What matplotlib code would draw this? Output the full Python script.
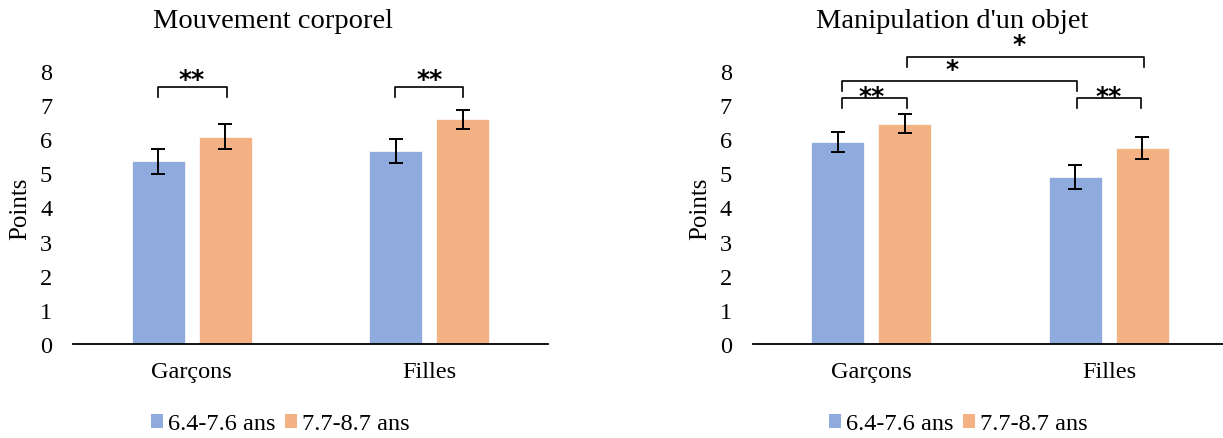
import numpy as np
import matplotlib
matplotlib.use("Agg")
import matplotlib.pyplot as plt
from matplotlib.patches import Patch

plt.rcParams["font.family"] = ["Liberation Serif", "DejaVu Serif"]

categories = ["Garçons", "Filles"]
series_names = ["6.4-7.6 ans", "7.7-8.7 ans"]
colors = ["#8FAADC", "#F4B183"]

corps_young = [5.35, 5.65]
corps_old = [6.08, 6.58]
corps_young_err = [0.36, 0.36]
corps_old_err = [0.37, 0.29]

objet_young = [5.93, 4.90]
objet_old = [6.46, 5.75]
objet_young_err = [0.29, 0.35]
objet_old_err = [0.27, 0.33]

titles = ["Mouvement corporel", "Manipulation d'un objet"]

# brackets: (x_left, x_right, y_top, y_leg, label, label_x, label_baseline)
corps_brackets = [
    (-0.141, 0.147, 7.53, 7.23, "**", 0.0, 7.55),
    (0.856, 1.141, 7.53, 7.23, "**", 1.0, 7.55),
]
objet_brackets = [
    (-0.124, 0.148, 7.21, 6.92, "**", 0.0, 7.06),
    (0.864, 1.135, 7.21, 6.92, "**", 1.0, 7.06),
    (-0.125, 0.866, 7.70, 7.42, "*", 0.34, 7.86),
    (0.148, 1.148, 8.42, 8.13, "*", 0.62, 8.58),
]

fig = plt.figure(figsize=(12.23, 4.39), dpi=100)
ax_left = fig.add_axes([73 / 1223, 94 / 439, 475 / 1223, 273 / 439])
ax_right = fig.add_axes([752.7 / 1223, 94 / 439, 475 / 1223, 273 / 439])

panels = [
    (ax_left, corps_young, corps_old, corps_young_err, corps_old_err, corps_brackets),
    (ax_right, objet_young, objet_old, objet_young_err, objet_old_err, objet_brackets),
]

x = np.arange(len(categories))
width = 0.223
offset = 0.141

for i, (ax, young, old, young_err, old_err, brackets) in enumerate(panels):
    for vals, errs, col, sign in [(young, young_err, colors[0], -1), (old, old_err, colors[1], 1)]:
        ax.bar(x + sign * offset, vals, width, color=col, edgecolor="white", linewidth=0.5, zorder=2)
        ax.errorbar(x + sign * offset, vals, yerr=errs, fmt="none", ecolor="black",
                    elinewidth=1.4, capsize=5, capthick=1.4, zorder=3)

    ax.set_xlim(-0.5, 1.5)
    ax.set_ylim(0, 8)
    ax.set_yticks(range(0, 9))
    ax.set_xticks(x)
    ax.set_xticklabels(categories)
    for s in ["top", "right", "left"]:
        ax.spines[s].set_visible(False)
    ax.spines["bottom"].set_linewidth(1.3)
    ax.tick_params(axis="y", length=0, pad=15, labelsize=17.5)
    ax.tick_params(axis="x", length=0, pad=12, labelsize=17.5)
    ax.set_ylabel("Points", fontsize=18)
    ax.yaxis.set_label_coords(-0.088, 0.5)
    ax.text(0.421, 1.0 + 50 / 273, titles[i], transform=ax.transAxes,
            ha="center", va="center", fontsize=20.5)

    for xl, xr, yt, yl, lab, lx, ly in brackets:
        ax.plot([xl, xl, xr, xr], [yl, yt, yt, yl], color="black", lw=1.2,
                clip_on=False, zorder=4)
        ax.text(lx, ly, lab, ha="center", va="baseline", fontsize=18, fontweight="bold",
                family="DejaVu Sans", clip_on=False, zorder=5)

    handles = [Patch(facecolor=c, edgecolor="none") for c in colors]
    lx_fig = (280 if i == 0 else 958) / 1223
    fig.legend(handles, series_names, loc="center", bbox_to_anchor=(lx_fig, 1 - 425 / 439),
               ncol=2, frameon=False, fontsize=17.5, handlelength=0.5, handleheight=0.5,
               handletextpad=0.2, columnspacing=0.4, borderpad=0)

fig.savefig("out.png", dpi=100)
